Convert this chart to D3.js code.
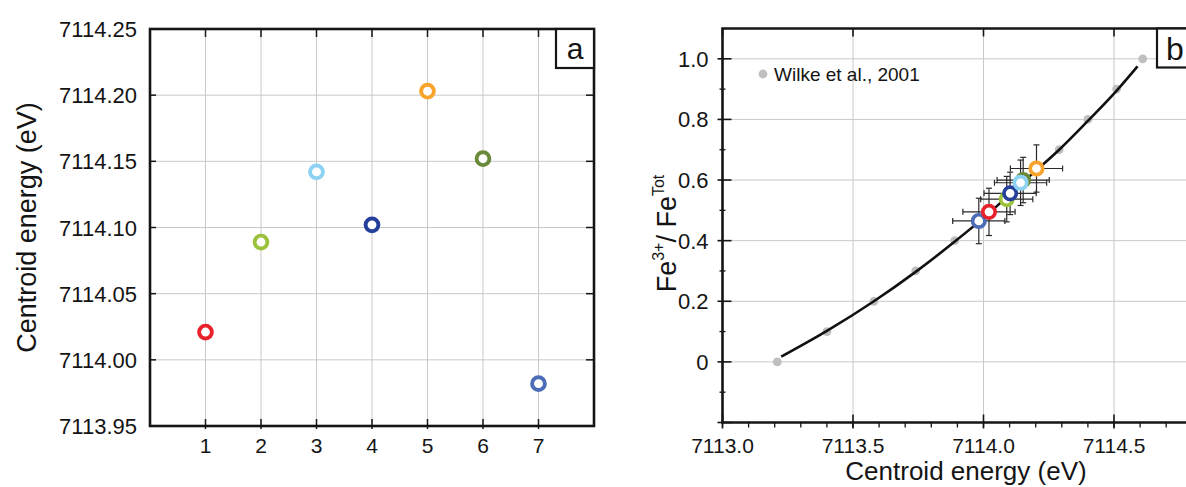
<!DOCTYPE html>
<html>
<head>
<meta charset="utf-8">
<script src="https://cdn.jsdelivr.net/npm/d3@7"></script>
<style>
  html, body { margin: 0; padding: 0; background: #fff; }
  svg { display: block; }
  text { font-family: "Liberation Sans", Arial, sans-serif; fill: #141414; }
</style>
</head>
<body>
<svg id="chart" width="1186" height="487"></svg>
<script>
// ---------------- data ----------------
const samples = [1, 2, 3, 4, 5, 6, 7];
const sampleColors = ["#e8222b", "#9cc23b", "#8dd2f2", "#24409b", "#f8a42c", "#6a8a3a", "#4d6cb8"];
const centroidEnergy = [7114.021, 7114.089, 7114.142, 7114.102, 7114.203, 7114.152, 7113.982];
const fe3Ratio = [0.495, 0.537, 0.591, 0.556, 0.638, 0.600, 0.465];
const energyErr = [0.10, 0.10, 0.10, 0.10, 0.10, 0.10, 0.10];
const ratioErr = [0.078, 0.075, 0.075, 0.070, 0.078, 0.075, 0.075];
const drawOrderB = [7, 1, 2, 4, 6, 3, 5];

const wilkeEnergy = [7113.21, 7113.40, 7113.58, 7113.74, 7113.89, 7114.03, 7114.16, 7114.29, 7114.40, 7114.51, 7114.61];
const wilkeRatio  = [0.00, 0.10, 0.20, 0.30, 0.40, 0.50, 0.60, 0.70, 0.80, 0.90, 1.00];

const fitEnergy = [7113.225, 7113.40, 7113.58, 7113.74, 7113.89, 7114.02, 7114.15, 7114.29, 7114.40, 7114.50, 7114.59];
const fitRatio  = [0.017, 0.102, 0.200, 0.297, 0.397, 0.490, 0.592, 0.700, 0.795, 0.885, 0.975];

const ticksAx = [1, 2, 3, 4, 5, 6, 7];
const ticksAy = [7113.95, 7114.00, 7114.05, 7114.10, 7114.15, 7114.20, 7114.25];
const ticksBx = [7113.0, 7113.5, 7114.0, 7114.5];
const ticksBy = [0, 0.2, 0.4, 0.6, 0.8, 1.0];
const minorBx = d3.range(0, 19).map(i => 7113 + i * 0.1);
const minorBy = [-0.1, 0.1, 0.3, 0.5, 0.7, 0.9];

// ---------------- layout ----------------
const svg = d3.select("#chart");
const frameColor = "#151515";
const gridColor = "#c9c9c9";

// Panel a
const A = { left: 150, right: 594, top: 29, bottom: 426 };
const xA = d3.scaleLinear().domain([0, 8]).range([A.left, A.right]);
const yA = d3.scaleLinear().domain([7113.95, 7114.25]).range([A.bottom, A.top]);

const gA = svg.append("g");
gA.selectAll(".gv").data(ticksAx).join("line")
  .attr("x1", d => xA(d)).attr("x2", d => xA(d))
  .attr("y1", A.top).attr("y2", A.bottom)
  .attr("stroke", gridColor).attr("stroke-width", 1);
gA.selectAll(".gh").data(ticksAy).join("line")
  .attr("x1", A.left).attr("x2", A.right)
  .attr("y1", d => yA(d)).attr("y2", d => yA(d))
  .attr("stroke", gridColor).attr("stroke-width", 1);

// ticks a
gA.selectAll(".tb").data(ticksAx).join("line")
  .attr("x1", d => xA(d)).attr("x2", d => xA(d))
  .attr("y1", A.bottom + 3).attr("y2", A.bottom - 7)
  .attr("stroke", frameColor).attr("stroke-width", 1.5);
gA.selectAll(".tt").data(ticksAx).join("line")
  .attr("x1", d => xA(d)).attr("x2", d => xA(d))
  .attr("y1", A.top).attr("y2", A.top + 8)
  .attr("stroke", frameColor).attr("stroke-width", 1.5);
gA.selectAll(".tr").data(ticksAy).join("line")
  .attr("x1", A.right).attr("x2", A.right - 8)
  .attr("y1", d => yA(d)).attr("y2", d => yA(d))
  .attr("stroke", frameColor).attr("stroke-width", 1.5);
gA.selectAll(".tl").data(ticksAy).join("line")
  .attr("x1", A.left).attr("x2", A.left + 6)
  .attr("y1", d => yA(d)).attr("y2", d => yA(d))
  .attr("stroke", frameColor).attr("stroke-width", 1.5);

gA.append("rect")
  .attr("x", A.left).attr("y", A.top)
  .attr("width", A.right - A.left).attr("height", A.bottom - A.top)
  .attr("fill", "none").attr("stroke", frameColor).attr("stroke-width", 2.6);

// tick labels a
gA.selectAll(".lx").data(ticksAx).join("text")
  .attr("x", d => xA(d)).attr("y", A.bottom + 27)
  .attr("text-anchor", "middle").attr("font-size", 21)
  .text(d => d);
gA.selectAll(".ly").data(ticksAy).join("text")
  .attr("x", A.left - 13).attr("y", d => yA(d) + 8)
  .attr("text-anchor", "end").attr("font-size", 22)
  .text(d => d.toFixed(2));

gA.append("text")
  .attr("transform", `translate(36, ${(A.top + A.bottom) / 2}) rotate(-90)`)
  .attr("text-anchor", "middle").attr("font-size", 27)
  .text("Centroid energy (eV)");

// box a
gA.append("rect")
  .attr("x", A.right - 38).attr("y", A.top)
  .attr("width", 38).attr("height", 39)
  .attr("fill", "#fff").attr("stroke", frameColor).attr("stroke-width", 2.2);
gA.append("text")
  .attr("x", A.right - 19).attr("y", A.top + 30)
  .attr("text-anchor", "middle").attr("font-size", 30)
  .text("a");

// points a
gA.selectAll(".pa").data(samples).join("circle")
  .attr("cx", (d, i) => xA(d)).attr("cy", (d, i) => yA(centroidEnergy[i]))
  .attr("r", 6.4)
  .attr("fill", "#fff")
  .attr("stroke", (d, i) => sampleColors[i]).attr("stroke-width", 3.9);

// Panel b
const B = { left: 722.5, right: 1193, top: 28.5, bottom: 422.5 };
const xB = d3.scaleLinear().domain([7113, 7114.8]).range([B.left, B.left + 1.8 * 261]);
const yB = d3.scaleLinear().domain([-0.2, 1.1]).range([B.bottom, B.top]);

const gB = svg.append("g");
gB.selectAll(".gv").data(ticksBx.slice(1)).join("line")
  .attr("x1", d => xB(d)).attr("x2", d => xB(d))
  .attr("y1", B.top).attr("y2", B.bottom)
  .attr("stroke", gridColor).attr("stroke-width", 1);
gB.selectAll(".gh").data(ticksBy).join("line")
  .attr("x1", B.left).attr("x2", B.right)
  .attr("y1", d => yB(d)).attr("y2", d => yB(d))
  .attr("stroke", gridColor).attr("stroke-width", 1);

// ticks b
gB.selectAll(".mbx").data(minorBx).join("line")
  .attr("x1", d => xB(d)).attr("x2", d => xB(d))
  .attr("y1", B.bottom).attr("y2", B.bottom + 5)
  .attr("stroke", frameColor).attr("stroke-width", 1.3);
gB.selectAll(".tbx").data(ticksBx).join("line")
  .attr("x1", d => xB(d)).attr("x2", d => xB(d))
  .attr("y1", B.bottom + 6).attr("y2", B.bottom - 8)
  .attr("stroke", frameColor).attr("stroke-width", 1.6);
gB.selectAll(".ttx").data(ticksBx).join("line")
  .attr("x1", d => xB(d)).attr("x2", d => xB(d))
  .attr("y1", B.top).attr("y2", B.top + 8)
  .attr("stroke", frameColor).attr("stroke-width", 1.6);
gB.selectAll(".mby").data(minorBy).join("line")
  .attr("x1", B.left - 3).attr("x2", B.left + 3)
  .attr("y1", d => yB(d)).attr("y2", d => yB(d))
  .attr("stroke", frameColor).attr("stroke-width", 1.3);
gB.selectAll(".tby").data(ticksBy.concat([-0.2])).join("line")
  .attr("x1", B.left - 5).attr("x2", B.left + 9)
  .attr("y1", d => yB(d)).attr("y2", d => yB(d))
  .attr("stroke", frameColor).attr("stroke-width", 1.6);

gB.append("path")
  .attr("d", `M${B.right},${B.top} H${B.left} V${B.bottom} H${B.right}`)
  .attr("fill", "none").attr("stroke", frameColor).attr("stroke-width", 2.6);
gB.append("line")
  .attr("x1", B.right).attr("x2", B.right).attr("y1", B.top).attr("y2", B.bottom)
  .attr("stroke", frameColor).attr("stroke-width", 2.6);

gB.selectAll(".lx").data(ticksBx).join("text")
  .attr("x", d => xB(d)).attr("y", B.bottom + 30)
  .attr("text-anchor", "middle").attr("font-size", 21)
  .text(d => d.toFixed(1));
gB.selectAll(".ly").data(ticksBy).join("text")
  .attr("x", B.left - 14).attr("y", d => yB(d) + 8)
  .attr("text-anchor", "end").attr("font-size", 22)
  .text(d => d === 0 ? "0" : d.toFixed(1));

gB.append("text")
  .attr("x", 966).attr("y", 480)
  .attr("text-anchor", "middle").attr("font-size", 26)
  .text("Centroid energy (eV)");

const yl = gB.append("text")
  .attr("transform", `translate(676, ${(B.top + B.bottom) / 2 + 8}) rotate(-90)`)
  .attr("text-anchor", "middle").attr("font-size", 27);
yl.append("tspan").text("Fe");
yl.append("tspan").attr("font-size", 16).attr("dy", -12).text("3+");
yl.append("tspan").attr("dy", 12).text("/ Fe");
yl.append("tspan").attr("font-size", 16).attr("dy", -12).text("Tot");

// Wilke reference points
gB.selectAll(".wk").data(wilkeEnergy).join("circle")
  .attr("cx", d => xB(d)).attr("cy", (d, i) => yB(wilkeRatio[i]))
  .attr("r", 4.4).attr("fill", "#bfbfbf");

// fit curve
const fitPts = fitEnergy.map((e, i) => [e, fitRatio[i]]);
gB.append("path")
  .datum(fitPts)
  .attr("d", d3.line().x(d => xB(d[0])).y(d => yB(d[1])).curve(d3.curveCatmullRom))
  .attr("fill", "none").attr("stroke", "#111").attr("stroke-width", 2.6);

// legend
gB.append("circle").attr("cx", 763).attr("cy", 74).attr("r", 4.4).attr("fill", "#bfbfbf");
gB.append("text").attr("x", 774).attr("y", 81).attr("font-size", 19).text("Wilke et al., 2001");

// error bars
const cap = 3;
const errG = gB.append("g").attr("stroke", "#2a2a2a").attr("stroke-width", 1.2);
drawOrderB.forEach(s => {
  const i = s - 1;
  const cx = xB(centroidEnergy[i]), cy = yB(fe3Ratio[i]);
  const x0 = xB(centroidEnergy[i] - energyErr[i]), x1 = xB(centroidEnergy[i] + energyErr[i]);
  const y0 = yB(fe3Ratio[i] - ratioErr[i]), y1 = yB(fe3Ratio[i] + ratioErr[i]);
  errG.append("line").attr("x1", x0).attr("x2", x1).attr("y1", cy).attr("y2", cy);
  errG.append("line").attr("x1", x0).attr("x2", x0).attr("y1", cy - cap).attr("y2", cy + cap);
  errG.append("line").attr("x1", x1).attr("x2", x1).attr("y1", cy - cap).attr("y2", cy + cap);
  errG.append("line").attr("x1", cx).attr("x2", cx).attr("y1", y0).attr("y2", y1);
  errG.append("line").attr("x1", cx - cap).attr("x2", cx + cap).attr("y1", y0).attr("y2", y0);
  errG.append("line").attr("x1", cx - cap).attr("x2", cx + cap).attr("y1", y1).attr("y2", y1);
});

gB.selectAll(".pb").data(drawOrderB).join("circle")
  .attr("cx", s => xB(centroidEnergy[s - 1])).attr("cy", s => yB(fe3Ratio[s - 1]))
  .attr("r", 6.2)
  .attr("fill", "#fff")
  .attr("stroke", s => sampleColors[s - 1]).attr("stroke-width", 3.7);

// box b
gB.append("rect")
  .attr("x", B.right - 36).attr("y", B.top)
  .attr("width", 36).attr("height", 39)
  .attr("fill", "#fff").attr("stroke", frameColor).attr("stroke-width", 2.2);
gB.append("text")
  .attr("x", B.right - 18).attr("y", B.top + 31)
  .attr("text-anchor", "middle").attr("font-size", 32)
  .text("b");
</script>
</body>
</html>
